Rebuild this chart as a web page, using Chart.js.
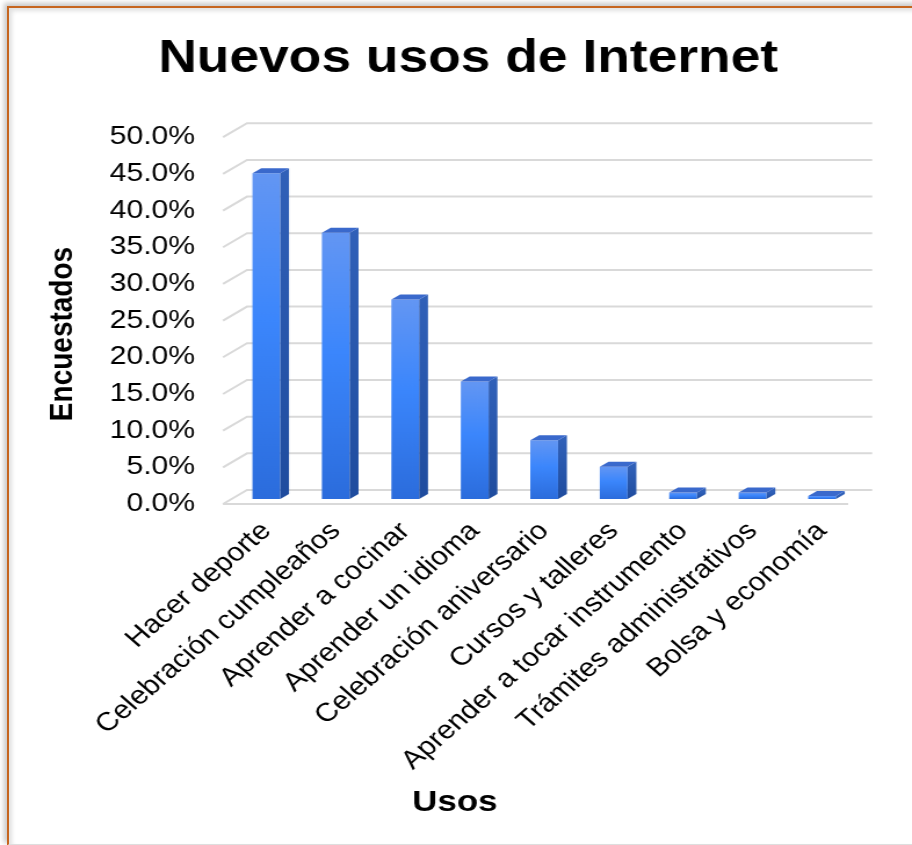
<!DOCTYPE html>
<html lang="es">
<head>
<meta charset="utf-8">
<title>Nuevos usos de Internet</title>
<script src="https://cdn.jsdelivr.net/npm/chart.js@4.4.1/dist/chart.umd.min.js"></script>
<style>
  html, body { margin: 0; padding: 0; background: #fff; overflow: hidden; }
  body { width: 912px; height: 845px; position: relative; }
  #frame {
    position: absolute; left: 7px; top: 6px; width: 960px; height: 836px;
    border-top: 2px solid #c6651f; border-left: 2px solid #c6651f;
    border-bottom: 2px solid #dedede;
    box-shadow: -3px -3px 5px rgba(0,0,0,0.22), inset 3px 3px 4px rgba(0,0,0,0.12);
  }
  #wrap {
    position: absolute; left: 0; top: 0; width: 786px; height: 845px;
    transform: scaleX(1.16031); transform-origin: 0 0;
  }
  canvas { display: block; }
</style>
</head>
<body>
<div id="frame"></div>
<div id="wrap"><canvas id="chart" width="786" height="845"></canvas></div>
<script>
// Survey results: share of respondents per new Internet use (percent)
const categories = [
  'Hacer deporte',
  'Celebración cumpleaños',
  'Aprender a cocinar',
  'Aprender un idioma',
  'Celebración aniversario',
  'Cursos y talleres',
  'Aprender a tocar instrumento',
  'Trámites administrativos',
  'Bolsa y economía'
];
const percentages = [44.4, 36.3, 27.2, 16.0, 8.0, 4.4, 0.9, 0.9, 0.4];
const yTickValues = [0, 5, 10, 15, 20, 25, 30, 35, 40, 45, 50];
const yTickLabels = yTickValues.map(v => v.toFixed(1) + '%');

const chartTitle = 'Nuevos usos de Internet';
const xAxisTitle = 'Usos';
const yAxisTitle = 'Encuestados';

// Pseudo-3D geometry (canvas pixels)
const WALL = { dx: 20.7, dy: 14 };      // depth of the back wall
const BAR_OFFSET = { dx: 7.4, dy: 5 };  // bars sit a little behind the front plane
const BAR_DEPTH = { dx: 7.6, dy: 5 };   // thickness of each bar
const FONT = '"Liberation Sans", Arial, Helvetica, sans-serif';

Chart.defaults.font.family = FONT;
Chart.defaults.color = '#000';

function frontGradient(context) {
  const chart = context.chart;
  const yScale = chart.scales && chart.scales.y;
  if (!yScale || !chart.chartArea) return '#3b86fc';
  const top = yScale.getPixelForValue(percentages[context.dataIndex]);
  const base = yScale.getPixelForValue(0);
  const g = chart.ctx.createLinearGradient(0, top, 0, base);
  g.addColorStop(0, '#6396f3');
  g.addColorStop(0.45, '#3b86fc');
  g.addColorStop(1, '#2b6cdc');
  return g;
}

// Draws the walls/gridlines behind the bars and the 3D faces of each bar
const depthPlugin = {
  id: 'depth3d',
  beforeDatasetsDraw(chart) {
    const { ctx, chartArea: { left, right, bottom }, scales: { y } } = chart;
    ctx.save();
    ctx.strokeStyle = '#d9d9d9';
    ctx.lineWidth = 2;
    yTickValues.forEach(v => {
      const py = y.getPixelForValue(v);
      ctx.beginPath();
      ctx.moveTo(left, py);
      ctx.lineTo(left + WALL.dx, py - WALL.dy);
      ctx.lineTo(right + WALL.dx, py - WALL.dy);
      ctx.stroke();
    });
    ctx.beginPath();
    ctx.moveTo(left, bottom);
    ctx.lineTo(right, bottom);
    ctx.stroke();
    ctx.restore();
    // shift the bars back into the box
    ctx.save();
    ctx.translate(BAR_OFFSET.dx, -BAR_OFFSET.dy);
  },
  afterDatasetsDraw(chart) {
    const { ctx } = chart;
    const meta = chart.getDatasetMeta(0);
    meta.data.forEach(bar => {
      const { x, y, base, width } = bar.getProps(['x', 'y', 'base', 'width'], true);
      const l = x - width / 2, r = x + width / 2;
      // side face
      const sg = ctx.createLinearGradient(0, y, 0, base);
      sg.addColorStop(0, '#3060b8');
      sg.addColorStop(1, '#1f4c9e');
      ctx.fillStyle = sg;
      ctx.beginPath();
      ctx.moveTo(r, y);
      ctx.lineTo(r + BAR_DEPTH.dx, y - BAR_DEPTH.dy);
      ctx.lineTo(r + BAR_DEPTH.dx, base - BAR_DEPTH.dy);
      ctx.lineTo(r, base);
      ctx.closePath();
      ctx.fill();
      // top face
      ctx.fillStyle = '#3a69cc';
      ctx.beginPath();
      ctx.moveTo(l, y);
      ctx.lineTo(l + BAR_DEPTH.dx, y - BAR_DEPTH.dy);
      ctx.lineTo(r + BAR_DEPTH.dx, y - BAR_DEPTH.dy);
      ctx.lineTo(r, y);
      ctx.closePath();
      ctx.fill();
    });
    ctx.restore();
  },
  afterDraw(chart) {
    const { ctx } = chart;
    ctx.save();
    ctx.fillStyle = '#000';
    ctx.textAlign = 'center';
    ctx.textBaseline = 'middle';
    ctx.font = 'bold 30px ' + FONT;
    ctx.fillText(xAxisTitle, 392, 803);
    ctx.translate(54, 334);
    ctx.rotate(-Math.PI / 2);
    ctx.font = 'bold 28px ' + FONT;
    ctx.fillText(yAxisTitle, 0, 0);
    ctx.restore();
  }
};

new Chart(document.getElementById('chart'), {
  type: 'bar',
  data: {
    labels: categories,
    datasets: [{
      label: yAxisTitle,
      data: percentages,
      backgroundColor: frontGradient,
      borderWidth: 0,
      barPercentage: 0.4,
      categoryPercentage: 1.0
    }]
  },
  options: {
    responsive: false,
    animation: false,
    layout: { padding: { left: 76, right: 55, top: 0, bottom: 0 } },
    plugins: {
      legend: { display: false },
      tooltip: { enabled: false },
      title: {
        display: true,
        text: chartTitle,
        color: '#000',
        font: { size: 46, weight: 'bold', family: FONT },
        padding: { top: 32, bottom: 50 }
      }
    },
    scales: {
      x: {
        grid: { display: false, drawTicks: false },
        border: { display: false },
        ticks: {
          autoSkip: false,
          minRotation: 45,
          maxRotation: 45,
          padding: 12,
          labelOffset: 7.4,
          font: { size: 26 },
          color: '#000'
        },
        afterFit(scale) { scale.height = 341; }
      },
      y: {
        min: 0,
        max: 50,
        grid: { display: false, drawTicks: false },
        border: { display: false },
        ticks: {
          stepSize: 5,
          padding: 24,
          font: { size: 26 },
          color: '#000',
          callback: (v) => yTickLabels[yTickValues.indexOf(v)] ?? ''
        },
        afterFit(scale) { scale.width = 116.2; }
      }
    }
  },
  plugins: [depthPlugin]
});
</script>
</body>
</html>
